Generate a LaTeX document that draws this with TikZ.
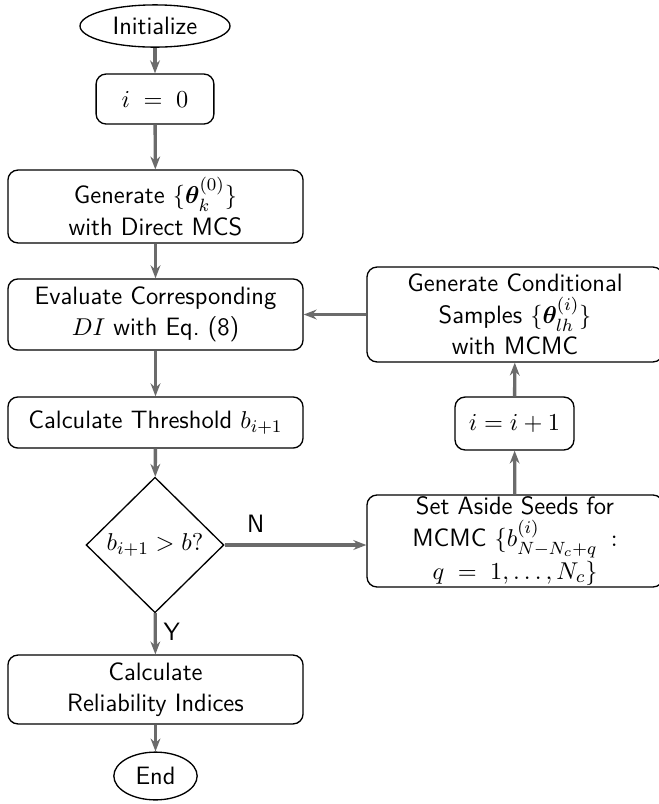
\documentclass[tikz,border=0pt]{standalone}
\usepackage{amsmath,bm}
\usetikzlibrary{shapes.geometric,arrows.meta}
\definecolor{arr}{HTML}{6B6B6B}
\begin{document}
\begin{tikzpicture}[x=0.45pt,y=-0.45pt,
  font=\sffamily\fontsize{11.3}{14.2}\selectfont,
  box/.style={draw=black,line width=0.6pt,rounded corners=4.5pt,align=center,inner sep=0pt},
  oval/.style={draw=black,line width=0.6pt,ellipse,align=center,inner sep=0pt},
  dia/.style={draw=black,line width=0.6pt,diamond,inner sep=0pt},
  flow/.style={draw=arr,line width=1.5pt,-{Stealth[length=5.8pt,width=4.4pt]}}]
\clip (0,0) rectangle (659,804);
\path[use as bounding box] (0,0) rectangle (659,804);
\node[oval,minimum width=67.5pt,minimum height=19pt] (init) at (155,26) {Initialize};
\node[box,minimum width=53pt,minimum height=22.5pt] (i0) at (155,99) {$i\;=\;0$};
\node[box,minimum width=132.8pt,minimum height=32.8pt] (gen) at (155.5,206.5) {Generate $\{\bm{\theta}^{(0)}_{k}\}$\\with Direct MCS};
\node[box,minimum width=132.8pt,minimum height=32pt] (eval) at (155.5,314.5) {Evaluate Corresponding\\$DI$ with Eq.~(8)};
\node[box,minimum width=132.8pt,minimum height=23pt] (thr) at (155.5,422.5) {Calculate Threshold $b_{i+1}$};
\node[dia,minimum width=62pt,minimum height=61pt] (dec) at (155,545) {$b_{i+1}>b?$};
\node[box,minimum width=132.8pt,minimum height=31pt] (rel) at (155.5,689.5) {Calculate\\Reliability Indices};
\node[oval,minimum width=37.5pt,minimum height=21.5pt] (end) at (155.5,776) {End};
\node[box,minimum width=133.2pt,minimum height=42.7pt] (cond) at (515,314.5) {Generate Conditional\\Samples $\{\bm{\theta}^{(i)}_{lh}\}$\\with MCMC};
\node[box,minimum width=53.5pt,minimum height=23.8pt] (inc) at (514.5,423.5) {$i=i+1$};
\node[box,minimum width=133.2pt,minimum height=41.4pt] (seed) at (515,541) {Set Aside Seeds for\\MCMC $\{b^{(i)}_{N-N_c+q}\;:$\\[0.5pt]$q\;=\;1,\ldots,N_c\}$};
\draw[flow] (init) -- (i0);
\draw[flow] (i0) -- (gen);
\draw[flow] (gen) -- (eval);
\draw[flow] (eval) -- (thr);
\draw[flow] (thr) -- (dec);
\draw[flow] (dec) -- node[right,pos=0.45,inner sep=3pt] (ylab) {Y} (rel);
\draw[flow] (rel) -- (end);
\draw[flow] (dec.east) -- node[above,pos=0.22,inner sep=5pt] (nlab) {N} (seed.west |- dec.east);
\draw[flow] (seed) -- (inc);
\draw[flow] (inc) -- (cond);
\draw[flow] (cond.west) -- (eval.east |- cond.west);
\end{tikzpicture}
\end{document}
